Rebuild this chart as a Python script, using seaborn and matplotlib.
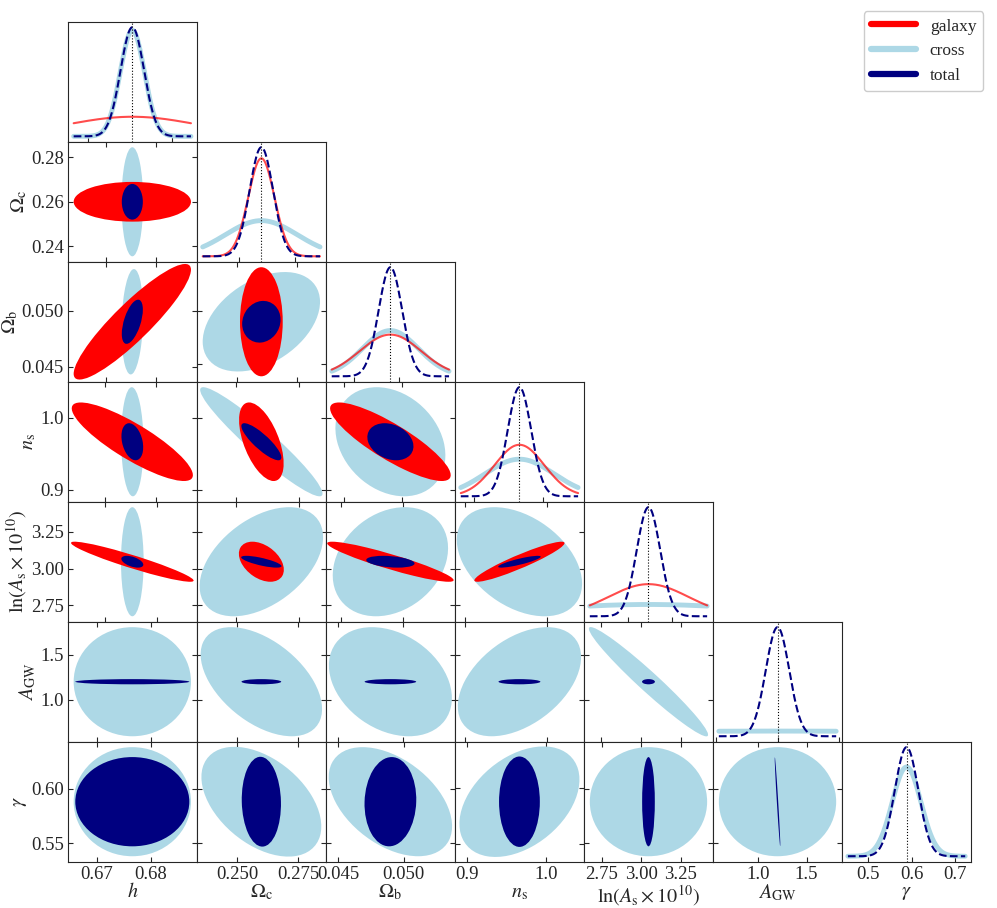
import numpy as np
import matplotlib
matplotlib.use('Agg')
import matplotlib.pyplot as plt
from matplotlib.patches import Ellipse
from matplotlib.lines import Line2D
from matplotlib.ticker import MaxNLocator
import seaborn as sns

# parametreler ve fiducial degerler
labels = [r'$h$', r'$\Omega_{\rm c}$', r'$\Omega_{\rm b}$', r'$n_{\rm s}$',
          r'$\ln(A_{\rm s}\times10^{10})$', r'$A_{\rm GW}$', r'$\gamma$']
fiducial = [0.6766, 0.26, 0.049, 0.9665, 3.047, 1.2, 0.588]

# marjinal 1-sigma hatalar (galaxy A_GW ve gamma'yi olcmuyor)
sigma_gal = [0.039, 0.0059, 0.0034, 0.036, 0.090, None, None]
sigma_cross = [0.0072, 0.0162, 0.0031, 0.050, 0.245, 0.40, 0.033]
sigma_tot = [0.0070, 0.0053, 0.0013, 0.017, 0.0265, 0.019, 0.027]

# korelasyon katsayilari, alt ucgen (satir i, sutun j < i)
rho_gal = [
    [],
    [0.0],
    [0.9, 0.0],
    [-0.85, -0.55, -0.85],
    [-0.94, -0.4, -0.92, 0.93],
]
rho_cross = [
    [],
    [0.0],
    [0.15, 0.4],
    [-0.05, -0.95, -0.25],
    [0.0, 0.45, 0.25, -0.4],
    [0.0, -0.5, -0.3, 0.45, -0.97],
    [0.0, -0.45, -0.45, 0.4, 0.0, 0.0],
]
rho_tot = [
    [],
    [0.0],
    [0.55, 0.1],
    [-0.3, -0.85, -0.25],
    [-0.5, -0.75, -0.3, 0.85],
    [0.0, 0.0, 0.0, 0.0, 0.0],
    [0.0, -0.05, 0.05, 0.0, 0.0, -0.97],
]

probes = ['galaxy', 'cross', 'total']
draw_order = ['cross', 'galaxy', 'total']
colors = {'galaxy': 'red', 'cross': 'lightblue', 'total': 'navy'}
sigmas = {'galaxy': sigma_gal, 'cross': sigma_cross, 'total': sigma_tot}
rhos = {'galaxy': rho_gal, 'cross': rho_cross, 'total': rho_tot}

alpha2d = np.sqrt(2.30)  # %68 kontur

sns.set_style('ticks')
plt.rcParams['font.family'] = 'serif'
plt.rcParams['font.serif'] = ['Liberation Serif', 'DejaVu Serif']
plt.rcParams['mathtext.fontset'] = 'stix'


def ellipse(ax, i, j, probe):
    sx = sigmas[probe][j]
    sy = sigmas[probe][i]
    r = rhos[probe][i][j]
    cov = np.array([[sx**2, r * sx * sy], [r * sx * sy, sy**2]])
    vals, vecs = np.linalg.eigh(cov)
    ang = np.degrees(np.arctan2(vecs[1, 1], vecs[0, 1]))
    e = Ellipse((fiducial[j], fiducial[i]), 2 * alpha2d * np.sqrt(vals[1]),
                2 * alpha2d * np.sqrt(vals[0]), angle=ang,
                facecolor=colors[probe], edgecolor='none')
    ax.add_patch(e)


n = len(labels)
fig = plt.figure(figsize=(9.97, 9.08), dpi=100)
gs = fig.add_gridspec(n, n, left=0.068, right=0.974, top=0.976, bottom=0.051,
                      wspace=0, hspace=0)

for i in range(n):
    for j in range(i + 1):
        ax = fig.add_subplot(gs[i, j])
        if i == j:
            f = fiducial[i]
            st = sigma_tot[i]
            x = np.linspace(f - 5 * st, f + 5 * st, 400)
            for p, lw, ls, a in [('cross', 3.5, '-', 1.0),
                                 ('galaxy', 1.5, '-', 0.7),
                                 ('total', 1.5, '--', 1.0)]:
                s = sigmas[p][i]
                if s is None:
                    continue
                y = np.exp(-0.5 * ((x - f) / s) ** 2) / (np.sqrt(2 * np.pi) * s)
                sns.lineplot(x=x, y=y, ax=ax, color=colors[p], lw=lw,
                             linestyle=ls, alpha=a)
            ax.axvline(f, color='k', ls=':', lw=0.8)
            ax.set_yticks([])
            ax.tick_params(direction='in', top=False, right=False, left=False)
        else:
            for p in draw_order:
                if sigmas[p][i] is None or sigmas[p][j] is None:
                    continue
                ellipse(ax, i, j, p)
            ax.autoscale_view()
            ax.yaxis.set_major_locator(MaxNLocator(nbins=3, steps=[1, 2, 2.5, 5, 10]))
            ax.tick_params(direction='in', top=True, right=True)
        ax.xaxis.set_major_locator(MaxNLocator(nbins=2, steps=[1, 2, 2.5, 5, 10]))
        ax.tick_params(labelsize=13.5, pad=3)
        ax.set_xlabel('')
        ax.set_ylabel('')
        if i == n - 1:
            ax.set_xlabel(labels[j], fontsize=14.5, labelpad=0)
        else:
            ax.tick_params(labelbottom=False)
        if j == 0 and i > 0:
            ax.set_ylabel(labels[i], fontsize=14.5, labelpad=1)
        else:
            ax.tick_params(labelleft=False)

handles = [Line2D([], [], color=colors[p], lw=4.5) for p in probes]
fig.legend(handles, probes, loc='upper right', bbox_to_anchor=(0.995, 0.997),
           fontsize=12.5, handlelength=2.6, framealpha=1)

fig.savefig('out.png', dpi=100)
